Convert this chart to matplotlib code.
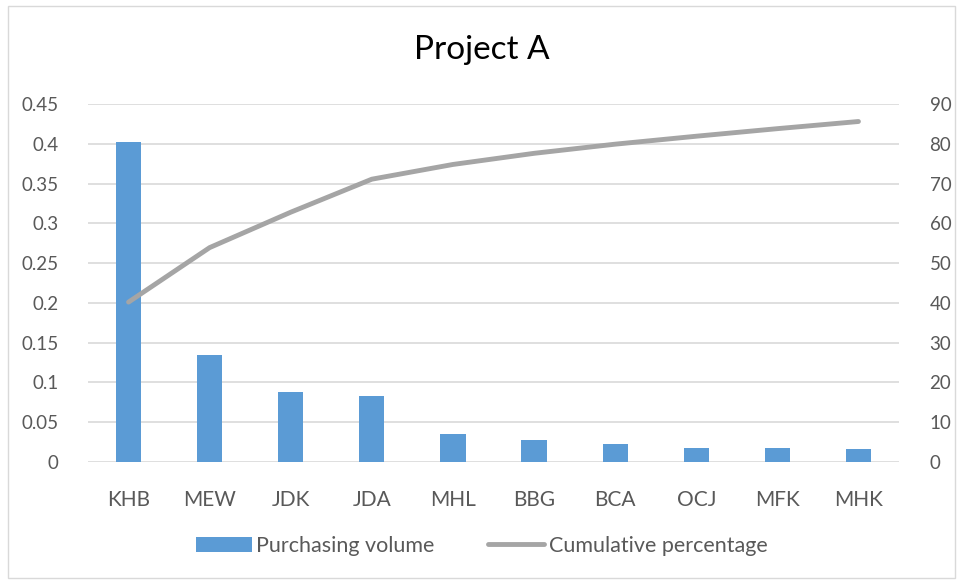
import matplotlib
matplotlib.use("Agg")
import matplotlib.pyplot as plt
from matplotlib.patches import Rectangle
import numpy as np

categories = ["KHB", "MEW", "JDK", "JDA", "MHL", "BBG", "BCA", "OCJ", "MFK", "MHK"]
purchasing_volume = [0.402, 0.135, 0.088, 0.083, 0.035, 0.0277, 0.0226, 0.0178, 0.0178, 0.0165]
cumulative_pct = [40.2, 53.9, 62.8, 71.1, 74.8, 77.6, 79.9, 81.9, 83.8, 85.6]
left_ticks = [0, 0.05, 0.1, 0.15, 0.2, 0.25, 0.3, 0.35, 0.4, 0.45]
left_labels = ["0", "0.05", "0.1", "0.15", "0.2", "0.25", "0.3", "0.35", "0.4", "0.45"]
right_ticks = [0, 10, 20, 30, 40, 50, 60, 70, 80, 90]

plt.rcParams['font.family'] = ['Lato', 'DejaVu Sans']
text_col = "#595959"
bar_col = "#5B9BD5"
line_col = "#A5A5A5"
grid_col = "#D9D9D9"

fig = plt.figure(figsize=(9.63, 5.84), dpi=100)
fig.patches.append(Rectangle((8/963, 6/584), 947/963, 572/584, transform=fig.transFigure,
                             fill=False, edgecolor="#D9D9D9", linewidth=1))
ax = fig.add_axes([88/963, 1-462/584, (899-88)/963, (462-104)/584])
x = np.arange(len(categories))
ax.bar(x, purchasing_volume, width=0.31, color=bar_col, zorder=2, label="Purchasing volume")
ax.set_ylim(0, 0.45)
ax.set_xlim(-0.5, len(categories)-0.5)
ax.set_yticks(left_ticks)
ax.set_yticklabels(left_labels)
ax.set_xticks(x)
ax.set_xticklabels(categories)
ax.grid(axis='y', color=grid_col, linewidth=1.2, zorder=0)
for s in ax.spines.values():
    s.set_visible(False)
ax.tick_params(axis='y', length=0, labelsize=13.5, colors=text_col, pad=21)
ax.tick_params(axis='x', length=0, labelsize=15, colors=text_col, pad=20)

ax2 = ax.twinx()
ax2.plot(x, cumulative_pct, color=line_col, linewidth=3.5, solid_capstyle='round', zorder=3,
         label="Cumulative percentage")
ax2.set_ylim(0, 90)
ax2.set_yticks(right_ticks)
for s in ax2.spines.values():
    s.set_visible(False)
ax2.tick_params(length=0, labelsize=13.5, colors=text_col, pad=22)

fig.text(0.5, 1-50/584, "Project A", ha='center', va='center', fontsize=24, color="black")

h1, l1 = ax.get_legend_handles_labels()
h2, l2 = ax2.get_legend_handles_labels()
fig.legend(h1 + h2, l1 + l2, loc='center', bbox_to_anchor=(0.5, 1-546/584), ncol=2, frameon=False,
           fontsize=15.5, labelcolor=text_col, handlelength=2.6, handletextpad=0.2, columnspacing=2.5)

fig.savefig("out.png", dpi=100)
